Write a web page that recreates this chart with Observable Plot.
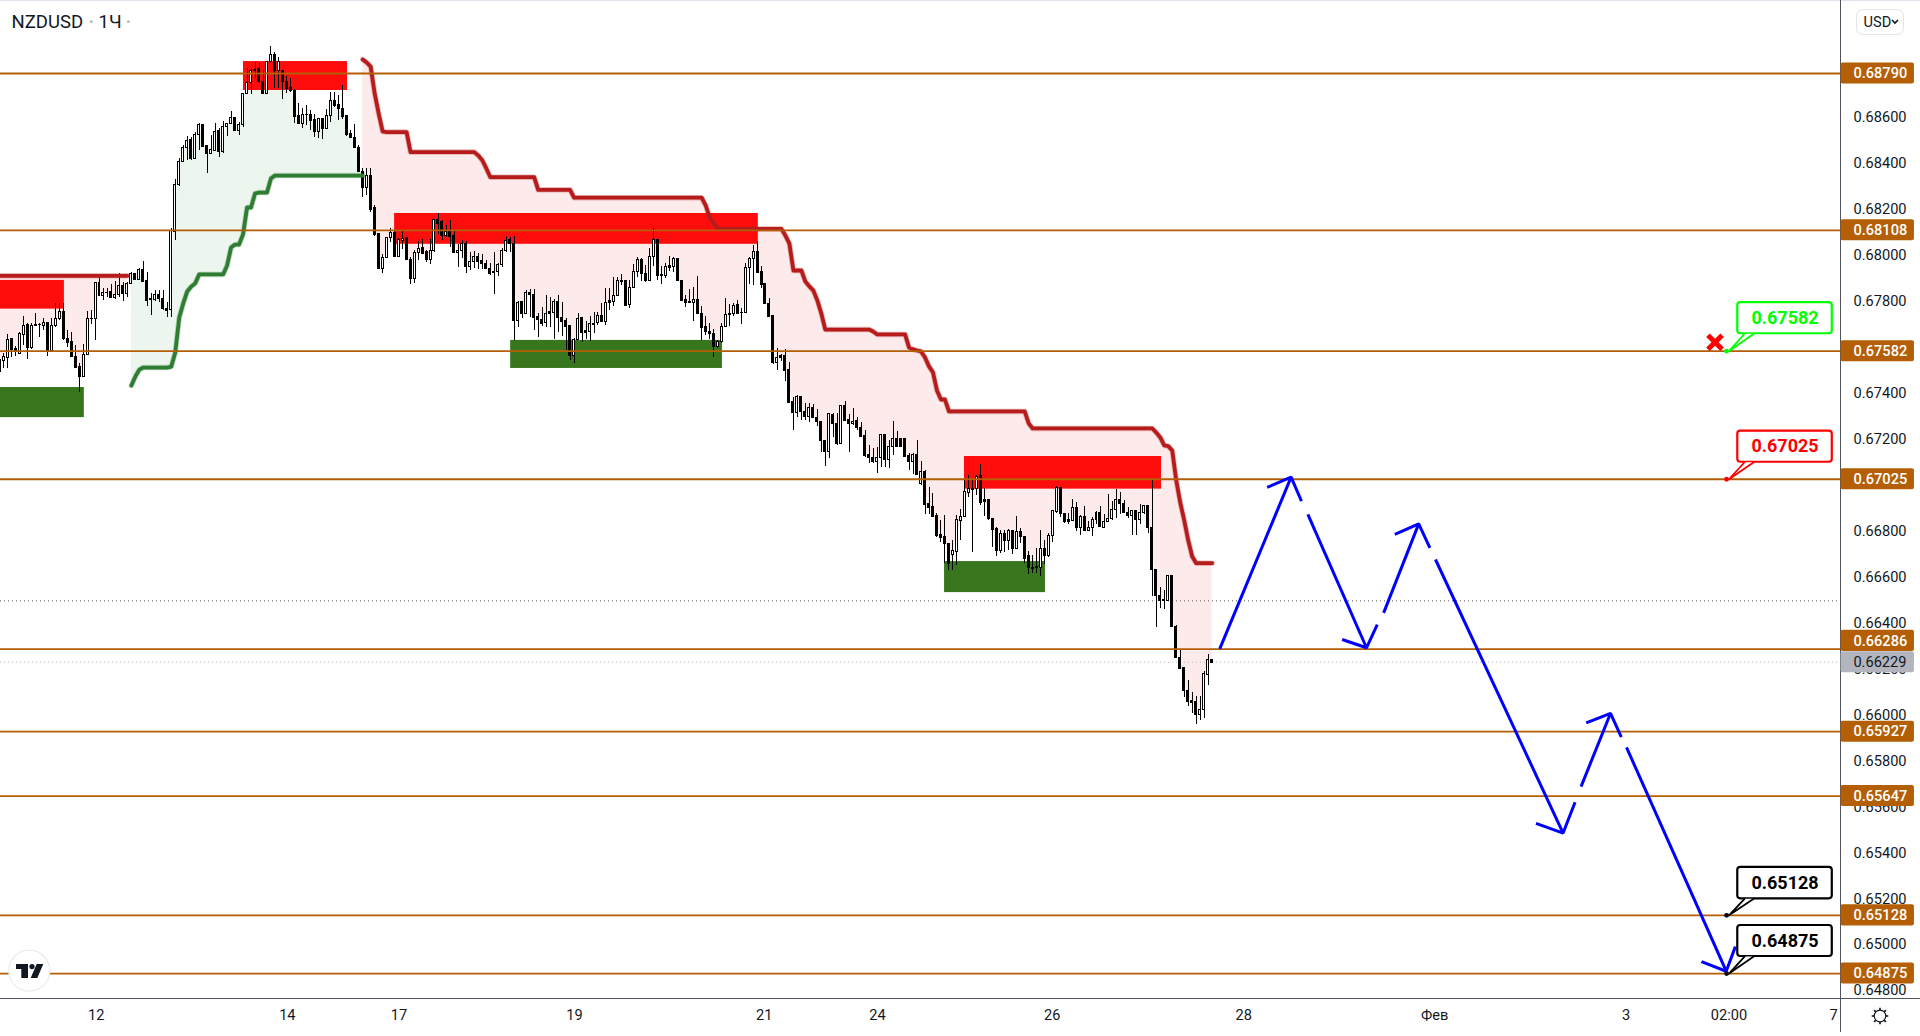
<!DOCTYPE html>
<html>
<head>
<meta charset="utf-8">
<script src="https://cdn.jsdelivr.net/npm/d3@7"></script>
<script src="https://cdn.jsdelivr.net/npm/@observablehq/plot@0.6"></script>
<style>html,body{margin:0;padding:0;background:#fff}svg{display:block}</style>
</head>
<body>
<div id="chart"></div>
<script>
// hourly candles, prices in 1/100000
const opens=[67490,67539,67554,67633,67593,67571,67652,67694,67594,67697,
67696,67691,67706,67585,67691,67720,67751,67636,67620,67558,
67512,67468,67567,67723,67722,67880,67823,67835,67838,67813,
67826,67867,67831,67876,67919,67893,67936,67887,67807,67803,
67825,67807,67767,67760,68100,68306,68407,68467,68499,68419,
68523,68564,68473,68439,68455,68538,68448,68557,68570,68597,
68539,68567,68702,68750,68806,68808,68755,68700,68839,68871,
68802,68802,68755,68729,68716,68603,68570,68608,68610,68586,
68535,68593,68549,68603,68671,68651,68636,68603,68525,68510,
68467,68361,68291,68344,68203,68090,67938,67987,68074,68094,
67991,68061,68073,67980,67896,68009,68029,68012,67977,68018,
68151,68142,68081,68102,68081,68009,68018,68047,67948,67970,
67990,67973,67963,67941,67928,67926,67958,68019,68064,68049,
67713,67794,67744,67836,67828,67729,67719,67703,67751,67748,
67797,67728,67713,67690,67559,67632,67725,67668,67665,67701,
67704,67736,67709,67799,67796,67822,67888,67888,67783,67857,
67926,67977,67919,67887,67993,68067,67912,67909,67951,67948,
67983,67889,67803,67794,67791,67806,67745,67686,67667,67658,
67599,67622,67687,67745,67742,67781,67750,67748,67944,67983,
68015,67925,67873,67788,67733,67530,67559,67559,67499,67359,
67314,67382,67317,67295,67336,67293,67275,67193,67143,67306,
67267,67178,67342,67281,67264,67277,67249,67211,67129,67119,
67100,67119,67216,67110,67166,67201,67198,67198,67124,67100,
67130,67003,67055,66916,66903,66866,66784,66772,66744,66694,
66710,66843,66860,66965,66984,66982,67037,66933,66933,66853,
66807,66713,66788,66756,66802,66720,66797,66776,66692,66641,
66642,66640,66722,66693,66777,66883,66988,66875,66846,66843,
66901,66812,66863,66802,66812,66848,66880,66815,66840,66851,
66892,66935,66918,66880,66864,66885,66848,66879,66909,66814,
66631,66518,66498,66496,66605,66384,66248,66205,66106,66062,
66054,65999,66022,66174,66239];
const highs=[67571,67571,67655,67636,67603,67665,67733,67701,67704,67748,
67701,67723,67706,67723,67788,67788,67788,67672,67665,67607,
67530,67610,67755,67757,67878,67912,67854,67854,67873,67887,
67919,67883,67883,67926,67919,67941,67973,67926,67832,67846,
67846,67846,67796,68117,68328,68420,68477,68516,68513,68532,
68571,68567,68473,68520,68571,68549,68581,68570,68626,68597,
68576,68702,68810,68813,68839,68832,68803,68842,68908,68883,
68861,68803,68779,68767,68719,68658,68636,68651,68629,68610,
68593,68596,68634,68709,68709,68694,68738,68603,68542,68567,
68477,68375,68375,68375,68216,68093,68002,68076,68115,68107,
68074,68103,68073,67991,68020,68060,68068,68020,68067,68154,
68183,68151,68129,68151,68105,68047,68064,68058,68013,68016,
68006,68003,67977,67962,68012,67965,68028,68081,68076,68081,
67799,67794,67846,67851,67851,67745,67771,67825,67815,67809,
67825,67796,67723,67690,67636,67745,67730,67713,67733,67749,
67749,67788,67854,67854,67902,67902,67916,67888,67890,67957,
67989,67984,67955,68028,68115,68067,67951,67962,67993,67989,
67987,67890,67825,67849,67858,67907,67777,67733,67701,67677,
67629,67701,67810,67784,67788,67803,67767,67965,67991,68042,
68058,67951,67873,67812,67733,67593,67568,67588,67535,67382,
67390,67382,67353,67353,67351,67329,67275,67194,67310,67310,
67310,67345,67364,67306,67332,67295,67274,67237,67172,67158,
67165,67219,67216,67194,67277,67233,67204,67204,67136,67136,
67194,67104,67063,66991,66962,66878,66846,66868,66744,66759,
66868,66892,67020,67042,67023,67042,67090,66984,66936,66853,
66817,66802,66802,66805,66802,66863,66810,66776,66710,66693,
66722,66802,66759,66788,66889,66993,66988,66875,66875,66935,
66922,66867,66906,66843,66860,66886,66906,66872,66957,66928,
66979,66966,66932,66904,66886,66889,66915,66911,66911,67020,
66631,66555,66541,66605,66605,66389,66280,66207,66150,66099,
66080,66080,66190,66263,66241];
const lows=[67481,67506,67506,67554,67559,67568,67607,67546,67588,67690,
67643,67672,67561,67583,67687,67716,67629,67600,67554,67506,
67404,67467,67567,67699,67629,67820,67803,67817,67810,67806,
67817,67800,67817,67873,67890,67890,67881,67778,67738,67800,
67796,67760,67730,67730,68064,68300,68404,68412,68412,68416,
68455,68467,68357,68436,68452,68426,68441,68516,68567,68538,
68520,68554,68699,68700,68767,68745,68700,68700,68837,68726,
68724,68677,68702,68709,68571,68568,68550,68564,68542,68510,
68509,68502,68547,68578,68644,68586,68590,68518,68506,68462,
68358,68252,68260,68187,68079,67938,67922,67984,68057,67991,
67991,68025,67977,67873,67878,67977,68006,67970,67960,68013,
68090,68064,68078,68035,68006,67948,67986,67922,67931,67941,
67938,67938,67938,67912,67829,67907,67948,68013,68013,67629,
67684,67725,67742,67730,67670,67643,67690,67687,67684,67633,
67665,67648,67585,67542,67530,67629,67622,67632,67626,67660,
67694,67709,67694,67759,67777,67820,67868,67777,67768,67854,
67904,67887,67883,67887,67952,67890,67870,67899,67929,67926,
67886,67799,67774,67788,67713,67742,67629,67651,67632,67556,
67593,67614,67684,67690,67733,67742,67700,67748,67873,67868,
67922,67854,67783,67728,67525,67498,67539,67449,67356,67237,
67295,67281,67281,67274,67288,67255,67140,67082,67117,67206,
67174,67178,67277,67142,67259,67237,67206,67119,67095,67092,
67052,67078,67078,67071,67129,67165,67165,67119,67063,67046,
67042,66998,66872,66872,66860,66773,66749,66658,66629,66629,
66650,66759,66860,66947,66707,66955,66911,66863,66846,66727,
66687,66704,66708,66716,66698,66720,66747,66660,66610,66614,
66614,66602,66654,66683,66751,66874,66860,66831,66828,66843,
66798,66782,66802,66798,66776,66828,66814,66812,66840,66846,
66856,66870,66877,66853,66782,66782,66828,66870,66790,66516,
66381,66461,66460,66495,66381,66248,66196,66077,66036,66007,
65958,65975,65983,66128,66224];
const closes=[67542,67555,67632,67588,67578,67655,67693,67594,67693,67691,
67695,67706,67585,67690,67723,67751,67635,67617,67557,67507,
67470,67567,67722,67720,67878,67822,67836,67834,67813,67828,
67867,67831,67873,67919,67893,67936,67884,67800,67805,67825,
67808,67767,67757,68103,68306,68406,68467,68497,68416,68523,
68564,68470,68439,68458,68536,68448,68558,68570,68597,68539,
68568,68702,68750,68799,68802,68752,68700,68839,68871,68803,
68842,68752,68723,68712,68600,68570,68609,68610,68583,68535,
68593,68547,68603,68671,68648,68636,68600,68523,68509,68467,
68361,68291,68344,68197,68086,67938,67989,68076,68094,67991,
68064,68071,67977,67894,68010,68028,68007,67977,68018,68151,
68136,68081,68102,68079,68009,68019,68047,67948,67971,67990,
67968,67961,67939,67920,67922,67958,68020,68063,68047,67713,
67793,67742,67836,67825,67728,67716,67702,67745,67742,67797,
67726,67707,67687,67559,67632,67723,67661,67660,67701,67698,
67736,67709,67793,67793,67823,67886,67883,67780,67858,67928,
67977,67919,67886,67993,68067,67909,67907,67949,67942,67984,
67887,67800,67791,67792,67806,67742,67683,67664,67655,67599,
67623,67688,67741,67740,67780,67745,67749,67945,67984,68015,
67922,67870,67786,67730,67529,67554,67551,67496,67356,67313,
67382,67317,67295,67335,67291,67272,67191,67142,67307,67264,
67177,67342,67278,67264,67275,67246,67208,67124,67116,67098,
67119,67216,67110,67166,67201,67165,67165,67121,67100,67129,
67042,67055,66913,66900,66863,66779,66768,66742,66655,66711,
66846,66863,66968,66981,66980,67034,66923,66926,66850,66803,
66713,66788,66755,66802,66720,66797,66774,66679,66640,66635,
66638,66722,66693,66780,66885,66988,66875,66838,66838,66901,
66812,66863,66802,66814,66848,66880,66817,66840,66853,66892,
66935,66917,66877,66864,66885,66848,66879,66909,66812,66631,
66516,66497,66496,66605,66381,66248,66200,66103,66058,66051,
65999,66022,66176,66239,66226];

// supertrend: value, number of bars it holds
const trendLeftRuns=[67910,33];
const trendUpRuns=[67433,1,67472,1,67502,1,67511,7,67515,1,67576,1,67729,1,67790,1,67842,1,67863,1,67877,1,67916,7,67955,1,68033,1,68046,2,68090,1,68207,2,68268,1,68272,3,68333,1,68346,23];
const trendDownRuns=[68851,1,68838,1,68820,1,68703,1,68616,1,68538,1,68535,6,68448,17,68433,1,68412,1,68377,1,68339,12,68284,9,68250,33,68216,1,68164,1,68138,1,68116,1,68114,16,68085,1,68050,1,67933,3,67885,1,67864,1,67846,1,67803,1,67746,1,67676,12,67668,1,67655,8,67598,1,67590,1,67585,1,67581,1,67555,1,67516,1,67490,1,67411,1,67372,2,67320,20,67268,1,67246,31,67228,1,67207,1,67172,1,67169,1,67150,1,67020,1,66924,1,66846,1,66759,1,66689,1,66660,5];
const trendUpStart=33, trendDownStart=91;

// supply / demand zones: from bar, to bar, top, bottom price
const supplyFrom=[0,61.1,99,241.9], supplyTo=[16.2,87.2,190.2,291.3];
const supplyTop=[0.67890,0.68842,0.68181,0.67124], supplyBottom=[0.67765,0.68716,0.68047,0.66982];
const demandFrom=[0,128.1,236.9], demandTo=[21.2,181.2,262.2];
const demandTop=[0.67424,0.67629,0.66667], demandBottom=[0.67293,0.67507,0.66532];

const levels=[0.68790,0.68108,0.67582,0.67025,0.66286,0.65927,0.65647,0.65128,0.64875];
// where each level's axis tag sits (0.66286 is pushed up clear of the last-price tag)
const levelTags=[0.68790,0.68108,0.67582,0.67025,0.66322,0.65927,0.65647,0.65128,0.64875];
const lastPrice=0.66229, prevLevel=0.66496;

// projected path
const arrowBars=[305.9,323.8, 317.8,323.8,326.4, 328,342.7, 336.6,342.7,345.4, 347,355.8, 349.8,355.8,358.6, 360,392, 385.2,392,395, 396.5,403.9, 397.8,403.9,406.6, 407.9,432.9, 426.7,432.9,435.2];
const arrowPrices=[0.66287,0.67034, 0.66990,0.67034,0.66930, 0.66872,0.66292, 0.66328,0.66292,0.66393, 0.66444,0.66831, 0.66785,0.66831,0.66727, 0.66676,0.65486, 0.65528,0.65486,0.65620, 0.65688,0.66007, 0.65965,0.66007,0.65903, 0.65859,0.64885, 0.64927,0.64885,0.64992];
const arrowGroups=[1,1, 2,2,2, 3,3, 4,4,4, 5,5, 6,6,6, 7,7, 8,8,8, 9,9, 10,10,10, 11,11, 12,12,12];

// callouts
const calloutPrices=[0.67582,0.67025,0.65128,0.64875];
const calloutColors=["#00ff00","#ff0000","#000000","#000000"];
const calloutTops=[0.67793,0.67234,0.65337,0.65084];
const calloutBottoms=[0.67658,0.67099,0.65200,0.64949];
const calloutBar=433, calloutBoxFrom=435.8, calloutBoxTo=459.5, tailFrom=437.5, tailTo=439.8;
const crossBar=430.1, crossPrice=0.67621;

const priceTicks=[0.686,0.684,0.682,0.680,0.678,0.674,0.672,0.668,0.666,0.664,0.662,0.660,0.658,0.656,0.654,0.652,0.650,0.648];
const timeTickBars=[24.2,72.1,100.1,144.1,191.7,220.1,263.9,311.9,359.8,407.8,433.6,459.8];
const timeTickLabels=["12","14","17","19","21","24","26","28","Фев","3","02:00","7"];

const xDomain=[0.1755,461.56], yDomain=[0.647664,0.691075];
const axisStart=461.7, axisEnd=480.1, axisText=464.8, tagHalf=0.000457;
const ink="#131722", levelColor="#b45f06", axisColor="#50535e", fontMain="Roboto";

function expand(runs,start){const out=[];let i=start;for(let k=0;k<runs.length;k+=2){for(let n=0;n<runs[k+1];n++){out.push({i,t:runs[k]/1e5});i++;}}return out;}
const bars=opens.map((o,i)=>({i,o:o/1e5,h:highs[i]/1e5,l:lows[i]/1e5,c:closes[i]/1e5,mid:(o+closes[i])/2e5}));
const withMid=d=>d.map(p=>({...p,mid:bars[p.i]?bars[p.i].mid:p.t}));
const trendLeft=withMid(expand(trendLeftRuns,0));
const trendUp=withMid(expand(trendUpRuns,trendUpStart));
const trendDown=withMid(expand(trendDownRuns,trendDownStart));
const up=bars.filter(b=>b.c>=b.o), down=bars.filter(b=>b.c<b.o);
const supply=supplyFrom.map((f,k)=>({f,t:supplyTo[k],a:supplyTop[k],b:supplyBottom[k]}));
const demand=demandFrom.map((f,k)=>({f,t:demandTo[k],a:demandTop[k],b:demandBottom[k]}));
const arrows=arrowBars.map((x,k)=>({x,y:arrowPrices[k],g:arrowGroups[k]}));
const callouts=calloutPrices.map((p,k)=>({p,c:calloutColors[k],a:calloutTops[k],b:calloutBottoms[k],m:(calloutTops[k]+calloutBottoms[k])/2}));
const tails=callouts.flatMap((d,k)=>[{x:tailFrom,y:d.b,k,c:d.c},{x:calloutBar+0.6,y:d.p,k,c:d.c},{x:tailTo,y:d.b,k,c:d.c}]);
const tags=levels.map((l,k)=>({l,t:levelTags[k]}));

const trendLine=(d,color)=>[
  Plot.line(d,{x:"i",y:"t",stroke:color,strokeWidth:5.5,strokeOpacity:.3,clip:"frame"}),
  Plot.line(d,{x:"i",y:"t",stroke:color,strokeWidth:3.8,clip:"frame"})
];
const overlay=()=>{
  const g=d3.create("svg:g");
  g.append("circle").attr("cx",29.3).attr("cy",970.7).attr("r",20.5).attr("fill","#fff").attr("stroke","#ebebeb").attr("stroke-width",1.2);
  g.append("path").attr("d","M16 964H28V978H21.3V969H16Z M36.7 964H43.3L37.3 978H30.7Z").attr("fill",ink);
  g.append("circle").attr("cx",32).attr("cy",966.6).attr("r",2.6).attr("fill",ink);
  g.append("rect").attr("x",0).attr("y",0).attr("width",1920).attr("height",1).attr("fill","#e0e3eb");
  g.append("line").attr("x1",1840.5).attr("x2",1840.5).attr("y1",0).attr("y2",1032).attr("stroke",axisColor);
  g.append("line").attr("x1",0).attr("x2",1920).attr("y1",998.5).attr("y2",998.5).attr("stroke",axisColor);
  g.append("rect").attr("x",1856.5).attr("y",9.5).attr("width",47).attr("height",25).attr("rx",6).attr("fill","#fff").attr("stroke","#e0e3eb");
  g.append("path").attr("d","M1892 20L1895 23L1898 20").attr("fill","none").attr("stroke",ink).attr("stroke-width",1.6);
  g.append("circle").attr("cx",1880).attr("cy",1016).attr("r",5.8).attr("fill","none").attr("stroke",ink).attr("stroke-width",1.2);
  for(let a=0;a<8;a++){const t=a*Math.PI/4,c=Math.cos(t),s=Math.sin(t);
    g.append("line").attr("x1",1880+5.8*c).attr("y1",1016+5.8*s).attr("x2",1880+8.3*c).attr("y2",1016+8.3*s).attr("stroke",ink).attr("stroke-width",1.6);}
  return g.node();
};
const txt=(s,dx,dy,o={})=>Plot.text([s],{frameAnchor:"top-left",dx,dy,textAnchor:"start",lineAnchor:"middle",fill:ink,fontSize:14.6,...o});
const crisp={shapeRendering:"crispEdges",clip:"frame"};

const chart=Plot.plot({
  width:1920,height:1036,marginLeft:0,marginRight:80,marginTop:0,marginBottom:38,
  x:{domain:xDomain},y:{domain:yDomain},
  style:{fontFamily:fontMain,background:"#fff",color:ink,overflow:"hidden"},
  marks:[
    Plot.areaY(trendLeft,{x:"i",y1:"t",y2:"mid",fill:"#fdebeb",clip:"frame"}),
    Plot.areaY(trendUp,{x:"i",y1:"t",y2:"mid",fill:"#edf6ee",clip:"frame"}),
    Plot.areaY(trendDown,{x:"i",y1:"t",y2:"mid",fill:"#fdebeb",clip:"frame"}),
    Plot.rect(supply,{x1:"f",x2:"t",y1:"a",y2:"b",fill:"#ff0d0d",clip:"frame"}),
    Plot.rect(demand,{x1:"f",x2:"t",y1:"a",y2:"b",fill:"#38761d",clip:"frame"}),
    Plot.ruleY([prevLevel],{stroke:"#555",strokeDasharray:"1,3"}),
    Plot.ruleY([lastPrice],{stroke:"#b2b5be",strokeDasharray:"1,3"}),
    Plot.ruleX(bars,{x:"i",y1:"l",y2:"h",stroke:"#000",strokeWidth:1,...crisp}),
    Plot.rect(up,{x1:d=>d.i-0.25,x2:d=>d.i+0.25,y1:"o",y2:"c",fill:"#fff",stroke:"#000",strokeWidth:1,...crisp}),
    Plot.rect(down,{x1:d=>d.i-0.25,x2:d=>d.i+0.25,y1:"o",y2:"c",fill:"#000",stroke:"#000",strokeWidth:1,...crisp}),
    ...trendLine(trendLeft,"#b71c1c"),
    ...trendLine(trendUp,"#2e7d32"),
    ...trendLine(trendDown,"#b71c1c"),
    Plot.ruleY(levels,{stroke:levelColor,strokeWidth:1.8}),
    Plot.line(arrows,{x:"x",y:"y",z:"g",stroke:"#0000ff",strokeWidth:3,strokeLinejoin:"miter",strokeLinecap:"butt"}),
    Plot.dot([0],{x:()=>crossBar,y:()=>crossPrice,symbol:"times",r:6.5,stroke:"#ff0000",strokeWidth:5}),
    Plot.rect(callouts,{x1:()=>calloutBoxFrom,x2:()=>calloutBoxTo,y1:"a",y2:"b",fill:"#fff",stroke:"c",strokeWidth:2.2,rx:3}),
    Plot.line(tails,{x:"x",y:"y",z:"k",stroke:"c",fill:"#fff",strokeWidth:1.8}),
    Plot.dot(callouts,{x:()=>calloutBar,y:"p",r:2.4,fill:"c"}),
    Plot.text(callouts,{x:()=>(calloutBoxFrom+calloutBoxTo)/2,y:"m",text:d=>d.p.toFixed(5),fill:"c",fontSize:18,fontWeight:700}),
    Plot.axisY({anchor:"right",ticks:priceTicks,tickSize:0,tickPadding:13,tickFormat:d3.format(".5f"),label:null,fontSize:14.6,fill:ink}),
    Plot.axisX({ticks:timeTickBars,tickSize:0,tickPadding:11,tickFormat:d=>timeTickLabels[timeTickBars.indexOf(d)],label:null,fontSize:14.6,fill:ink}),
    overlay,
    Plot.rect(tags,{x1:()=>axisStart,x2:()=>axisEnd,y1:d=>d.t-tagHalf,y2:d=>d.t+tagHalf,fill:levelColor,rx:2}),
    Plot.text(tags,{x:()=>axisText,y:"t",text:d=>d.l.toFixed(5),fill:"#fff",fontSize:14.6,fontWeight:500,textAnchor:"start"}),
    Plot.rect([lastPrice],{x1:()=>axisStart,x2:()=>axisEnd,y1:d=>d-tagHalf,y2:d=>d+tagHalf,fill:"#b2b5be",rx:2}),
    Plot.text([lastPrice],{x:()=>axisText,y:d=>d,text:d=>d.toFixed(5),fill:ink,fontSize:14.6,textAnchor:"start"}),
    txt("NZDUSD",11,22,{fontSize:18.5}),
    txt("·",88,22,{fontSize:18.5,fill:"#b2b5be",fontWeight:700}),
    txt("1Ч",98,22,{fontSize:18.5}),
    txt("·",125,22,{fontSize:18.5,fill:"#b2b5be",fontWeight:700}),
    txt("USD",1863,22,{fontSize:14.6})
  ]
});
document.getElementById("chart").append(chart);
</script>
</body>
</html>
